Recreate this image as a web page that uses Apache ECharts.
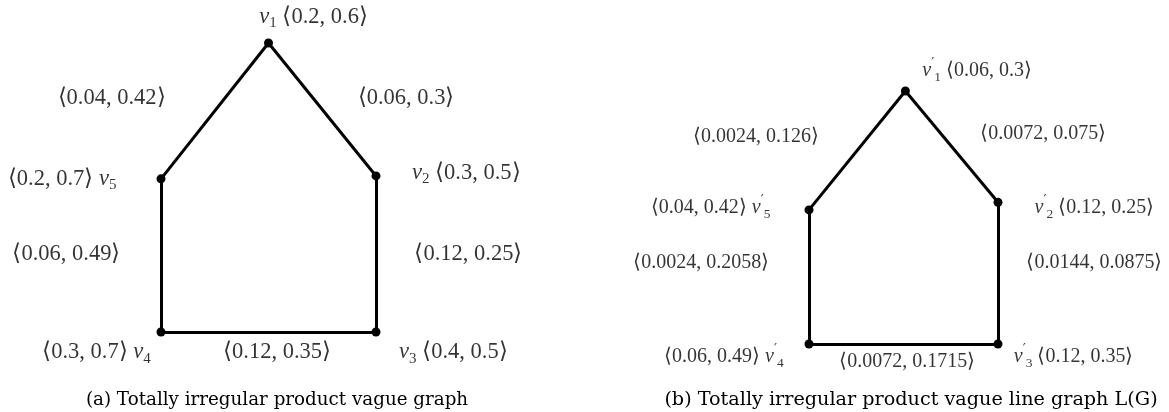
<!DOCTYPE html>
<html>
<head>
<meta charset="utf-8">
<script src="https://cdn.jsdelivr.net/npm/echarts@6/dist/echarts.min.js"></script>
<style>
html,body{margin:0;padding:0;background:#fff;}
#chart{width:1169px;height:412px;}
</style>
</head>
<body>
<div id="chart"></div>
<script>
// ---------- DATA ----------
// (a) graph G
const gNodeSub = ['1', '2', '3', '4', '5'];
const gNodeValues = ['0.2, 0.6', '0.3, 0.5', '0.4, 0.5', '0.3, 0.7', '0.2, 0.7'];
const gNodeLayout = [[50, 100], [100, 54], [100, 0], [0, 0], [0, 53]];       // layout units
const gEdges = [[0, 1], [1, 2], [2, 3], [3, 4], [4, 0]];
const gEdgeValues = ['0.06, 0.3', '0.12, 0.25', '0.12, 0.35', '0.06, 0.49', '0.04, 0.42'];
const gNodeLabelAt = [[71, 109], [142, 55], [136, -7], [-30, -7], [-46, 53]];
const gEdgeLabelAt = [[114, 81], [143, 27], [54, -7], [-44, 27], [-23, 81]];
const gCaption = '(a) Totally irregular product vague graph';

// (b) line graph L(G)
const lNodeSub = ['1', '2', '3', '4', '5'];
const lNodeValues = ['0.06, 0.3', '0.12, 0.25', '0.12, 0.35', '0.06, 0.49', '0.04, 0.42'];
const lNodeLayout = [[51, 100], [100, 56], [100, 0], [0, 0], [0, 53]];
const lEdges = [[0, 1], [1, 2], [2, 3], [3, 4], [4, 0]];
const lEdgeValues = ['0.0072, 0.075', '0.0144, 0.0875', '0.0072, 0.1715', '0.0024, 0.2058', '0.0024, 0.126'];
const lNodeLabelAt = [[89, 108], [151, 54], [140, -5], [-45, -5], [-52, 54]];
const lEdgeLabelAt = [[124, 83], [151, 32], [52, -7], [-57, 32], [-28, 82]];
const lCaption = '(b) Totally irregular product vague line graph L(G)';

// which side of the name the value goes: true = name first
const nameFirst = [true, true, true, false, false];

// ---------- CHART ----------
const FONT = 'Liberation Serif';
function makeRich(size, small) {
  return {
    t: { fontFamily: FONT, fontSize: size, color: '#000', lineHeight: 28 },
    v: { fontFamily: FONT, fontStyle: 'italic', fontSize: size, color: '#000', lineHeight: 28 },
    sub: { fontFamily: FONT, fontSize: small, color: '#000', verticalAlign: 'bottom', lineHeight: 28 },
    sup: { fontFamily: 'DejaVu Sans', fontSize: small, color: '#000', verticalAlign: 'top', lineHeight: 28 }
  };
}
const richG = makeRich(22.5, 15);
const richL = makeRich(20, 13.5);

function nodeLabel(sub, val, i, prime) {
  const name = '{v|v}' + (prime ? '{sup|′}' : '') + '{sub|' + sub + '}';
  const v = '{t|⟨' + val + '⟩}';
  return nameFirst[i] ? name + '{t| }' + v : v + '{t| }' + name;
}

function graphSeries(layout, edges, idx) {
  return {
    type: 'graph',
    coordinateSystem: 'cartesian2d',
    xAxisIndex: idx, yAxisIndex: idx,
    symbol: 'circle', symbolSize: 9,
    itemStyle: { color: '#000' },
    lineStyle: { color: '#000', width: 3, opacity: 1, curveness: 0 },
    label: { show: false },
    emphasis: { disabled: true },
    data: layout.map((p, i) => ({ name: String(idx) + '_' + i, value: p })),
    links: edges.map(e => ({ source: String(idx) + '_' + e[0], target: String(idx) + '_' + e[1] })),
    z: 3
  };
}

function textSeries(points, texts, idx, rich) {
  return {
    type: 'scatter', xAxisIndex: idx, yAxisIndex: idx,
    symbolSize: 0, clip: false, silent: true,
    data: points.map((p, i) => ({ value: p, txt: texts[i] })),
    label: { show: true, position: 'inside', color: '#000', formatter: (p) => p.data.txt, rich: rich },
    z: 4
  };
}

const gNodeTexts = gNodeSub.map((s, i) => nodeLabel(s, gNodeValues[i], i, false));
const lNodeTexts = lNodeSub.map((s, i) => nodeLabel(s, lNodeValues[i], i, true));
const gEdgeTexts = gEdgeValues.map(v => '{t|⟨' + v + '⟩}');
const lEdgeTexts = lEdgeValues.map(v => '{t|⟨' + v + '⟩}');

const axisOff = { type: 'value', min: 0, max: 100, show: false };

const chart = echarts.init(document.getElementById('chart'), null, { renderer: 'canvas' });
chart.setOption({
  animation: false,
  backgroundColor: '#fff',
  grid: [
    { left: 161, top: 43, width: 215, height: 289 },
    { left: 809, top: 91, width: 189, height: 253 }
  ],
  xAxis: [Object.assign({ gridIndex: 0 }, axisOff), Object.assign({ gridIndex: 1 }, axisOff)],
  yAxis: [Object.assign({ gridIndex: 0 }, axisOff), Object.assign({ gridIndex: 1 }, axisOff)],
  series: [
    graphSeries(gNodeLayout, gEdges, 0),
    graphSeries(lNodeLayout, lEdges, 1),
    textSeries(gNodeLabelAt, gNodeTexts, 0, richG),
    textSeries(gEdgeLabelAt, gEdgeTexts, 0, richG),
    textSeries(lNodeLabelAt, lNodeTexts, 1, richL),
    textSeries(lEdgeLabelAt, lEdgeTexts, 1, richL)
  ],
  graphic: [
    { type: 'text', x: 277, y: 400, style: { text: gCaption, font: '18.3px "DejaVu Serif"', fill: '#000', textAlign: 'center', textVerticalAlign: 'middle' } },
    { type: 'text', x: 911, y: 400, style: { text: lCaption, font: '19.2px "DejaVu Serif"', fill: '#000', textAlign: 'center', textVerticalAlign: 'middle' } }
  ]
});
</script>
</body>
</html>
